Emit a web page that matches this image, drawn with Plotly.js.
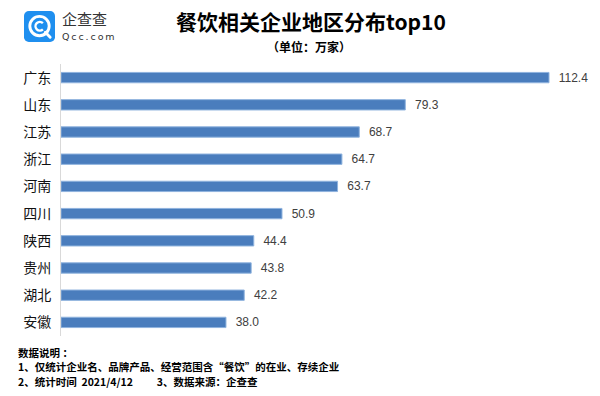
<!DOCTYPE html>
<html><head><meta charset="utf-8">
<script src="https://cdn.plot.ly/plotly-3.0.1.min.js"></script>
<style>body{margin:0;background:#fff}#c{width:600px;height:396px}</style>
</head><body><div id="c"></div>
<script>
const categories = ["广东","山东","江苏","浙江","河南","四川","陕西","贵州","湖北","安徽"];
const values = [112.4,79.3,68.7,64.7,63.7,50.9,44.4,43.8,42.2,38.0];
const valueLabels = ["112.4","79.3","68.7","64.7","63.7","50.9","44.4","43.8","42.2","38.0"];
const F = '"Noto Sans CJK SC", "Microsoft YaHei", sans-serif';
const logoSvg = 'data:image/svg+xml;utf8,' + encodeURIComponent(
 '<svg xmlns="http://www.w3.org/2000/svg" width="32" height="32" viewBox="0 0 32 32">'+
 '<rect x="0" y="0" width="32" height="32" rx="5" fill="#1f8fef"/>'+
 '<circle cx="16" cy="15.5" r="10" fill="none" stroke="#fff" stroke-width="3"/>'+
 '<path d="M19.5 12.5 A4.5 4.5 0 1 0 19.5 19" fill="none" stroke="#fff" stroke-width="2.5"/>'+
 '<path d="M22 22 L27 27" stroke="#fff" stroke-width="3" stroke-linecap="round"/>'+
 '</svg>');
const trace = {
  type:'bar', orientation:'h', x: values, y: categories,
  text: valueLabels, texttemplate:'  %{text}', textposition:'outside', cliponaxis:false,
  constraintext:'none',
  textfont:{family:'Arial, "Liberation Sans", sans-serif', size:12, color:'#404040'},
  marker:{color:'#4a7dbd', line:{color:'#8fb3de', width:1}},
  width:0.38, hoverinfo:'none'
};
const pw = 600-61-18, ph = 396-64-60;
function px(x){return (x-61)/pw;}
function py(y){return (396-60-y)/ph;}
const foot = {xref:'paper', yref:'paper', x:px(16), xanchor:'left', yanchor:'middle', showarrow:false, font:{family:F, size:10.5, color:'#000'}};
const layout = {
  width:600, height:396, paper_bgcolor:'#fff', plot_bgcolor:'#fff',
  margin:{l:61, r:18, t:64, b:60},
  showlegend:false,
  xaxis:{range:[0,120], visible:false, fixedrange:true},
  yaxis:{autorange:'reversed', showline:true, linecolor:'#d9d9d9', linewidth:1,
    ticks:'', ticklen:0, showgrid:false, zeroline:false,
    tickfont:{family:F, size:14, color:'#111'}, ticklabelstandoff:6},
  images:[{source:logoSvg, xref:'paper', yref:'paper', x:px(24), y:py(11), sizex:31/pw, sizey:31/ph, xanchor:'left', yanchor:'top', sizing:'stretch'}],
  annotations:[
    {text:'<b>餐饮相关企业地区分布top10</b>', xref:'paper', yref:'paper', x:px(311), y:py(21), xanchor:'center', yanchor:'middle', showarrow:false, font:{family:F, size:21, color:'#000'}},
    {text:'<b>（单位：万家）</b>', xref:'paper', yref:'paper', x:px(309), y:py(46), xanchor:'center', yanchor:'middle', showarrow:false, font:{family:F, size:12, color:'#000'}},
    {text:'企查查', xref:'paper', yref:'paper', x:px(60), y:py(19), xanchor:'left', yanchor:'middle', showarrow:false, font:{family:F, size:15, color:'#333'}},
    {text:'Q\u2009c\u2009c\u2009.\u2009c\u2009o\u2009m', xref:'paper', yref:'paper', x:px(60), y:py(37), xanchor:'left', yanchor:'middle', showarrow:false, font:{family:'"DejaVu Sans", sans-serif', size:9.5, color:'#333'}},
    Object.assign({}, foot, {text:'<b>数据说明 ：</b>', y:py(352)}),
    Object.assign({}, foot, {text:'<b>1、仅统计企业名、品牌产品、经营范围含“餐饮”的在业、存续企业</b>', y:py(366.5)}),
    Object.assign({}, foot, {text:'<b>2、统计时间  2021/4/12          3、数据来源：企查查</b>', y:py(381)})
  ]
};
Plotly.newPlot('c',[trace],layout,{displayModeBar:false, staticPlot:true});
</script></body></html>
